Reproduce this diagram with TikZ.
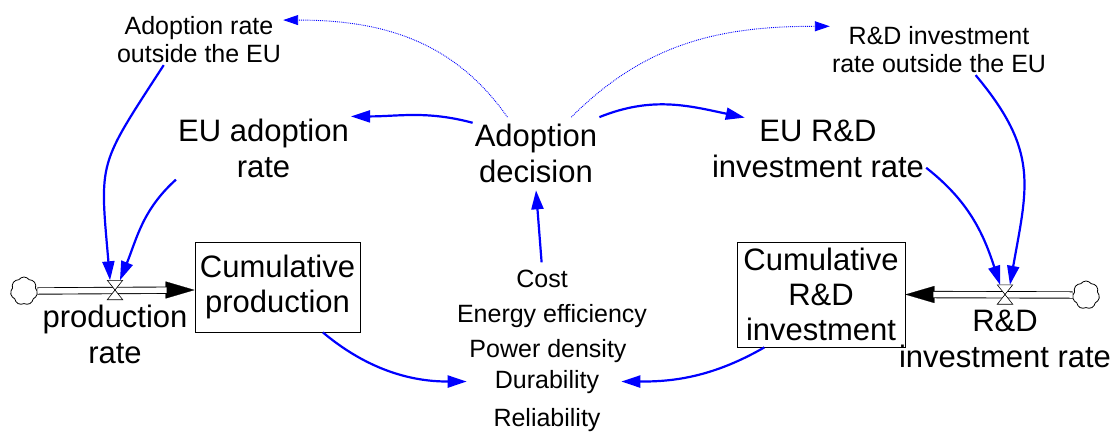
\documentclass[tikz,border=0pt]{standalone}
\usepackage{fontspec}
\setmainfont{Liberation Sans}
\usetikzlibrary{arrows.meta,shapes.symbols}

\begin{document}
\begin{tikzpicture}[x=1pt,y=1pt,
  lbl/.style={align=center,inner sep=2pt,font=\fontsize{31}{36}\selectfont},
  sml/.style={align=center,inner sep=2pt,font=\fontsize{25}{28.5}\selectfont},
  item/.style={anchor=base,inner sep=2pt,font=\fontsize{25}{30}\selectfont},
  stock/.style={draw,line width=0.8pt,inner sep=0pt,align=center,font=\fontsize{31}{35}\selectfont},
  link/.style={blue,line width=2.2pt,-{Triangle[length=19pt,width=12pt]}},
  hint/.style={blue,line width=0.9pt,densely dotted,-{Triangle[length=15pt,width=10pt]}},
  pipe/.style={double distance=5.5pt,line width=0.9pt},
  pipetip/.style={line width=0.2pt,-{Triangle[length=29pt,width=17pt]}},
  source/.style={cloud,draw,cloud puffs=7,cloud puff arc=110,cloud ignores aspect,minimum width=27pt,minimum height=28pt,inner sep=0pt,line width=0.8pt},
  valve/.style={minimum width=15pt,minimum height=19pt,inner sep=0pt}]
\useasboundingbox (0,0) rectangle (1116,-432);

\node[sml] (adoptout) at (199,-39.5) {Adoption rate\\outside the EU};
\node[sml] (rdout) at (939,-49.5) {R\&D investment\\rate outside the EU};
\node[lbl,inner ysep=7pt] (adoptdec) at (536,-153.7) {Adoption\\decision};
\node[lbl] (euadopt) at (263.5,-148) {EU adoption\\rate};
\node[lbl] (eurd) at (818,-148.7) {EU R\&D\\investment rate};

\node[stock,minimum width=165pt,minimum height=90pt] (cumprod) at (277.5,-287) {Cumulative\\production};
\node[stock,minimum width=168pt,minimum height=105pt] (cumrd) at (821,-294.5) {Cumulative\\R\&D\\investment};

\node[lbl] (prodrate) at (115,-334) {production\\rate};
\node[lbl] (rdrate) at (1005,-339) {R\&D\\investment rate};

\node[item] (cost) at (542,-287) {Cost};
\node[item] (energy) at (552,-322) {Energy efficiency};
\node[item] (power) at (548,-357) {Power density};
\node[item] (durab) at (547,-388) {Durability};
\node[item] (reliab) at (547,-426) {Reliability};

% flows
\node[source] (lcloud) at (24,-291) {};
\node[source] (rcloud) at (1086,-295) {};
\node[valve] (pvalve) at (115,-290) {};
\node[valve] (rvalve) at (1005,-294.5) {};
\coordinate (pin) at (cumprod.west |- pvalve);
\coordinate (rin) at (cumrd.east |- rvalve);
\draw[pipetip] (pvalve) -- (pin);
\draw[pipetip] (rvalve) -- (rin);
\draw[pipe,shorten >=28pt] (lcloud.east) -- (pin);
\draw[pipe,shorten >=28pt] (rcloud.west) -- (rin);
\foreach \v in {pvalve,rvalve}
  \draw[fill=white,line width=0.6pt] (\v.north west) -- (\v.north east) -- (\v.south west) -- (\v.south east) -- cycle;

% links
\draw[link] (adoptdec.154) to[out=165,in=0] (euadopt.north east);
\draw[link] (adoptdec.north east) to[out=22,in=168] (eurd.157);
\draw[hint] (adoptdec.128) to[out=125,in=0] (adoptout.13);
\draw[hint] (adoptdec.46) to[out=45,in=180] (rdout.168);
\draw[link] (adoptout.216) to[out=237,in=95,looseness=1.4] (pvalve.117);
\draw[link] (euadopt.south west) to[out=222,in=68] (pvalve.63);
\draw[link] (eurd.350) to[out=-38,in=108] (rvalve.117);
\draw[link] (rdout.325) to[out=-50,in=80,looseness=1.2] (rvalve.63);
\draw[link,shorten <=5pt] (cost.north) -- (adoptdec.south);
\draw[link,shorten >=26pt] (cumprod.-45) to[out=-40,in=180] (durab.west);
\draw[link,shorten >=20pt] (cumrd.223) to[out=210,in=0] (durab.east);
\end{tikzpicture}
\end{document}
